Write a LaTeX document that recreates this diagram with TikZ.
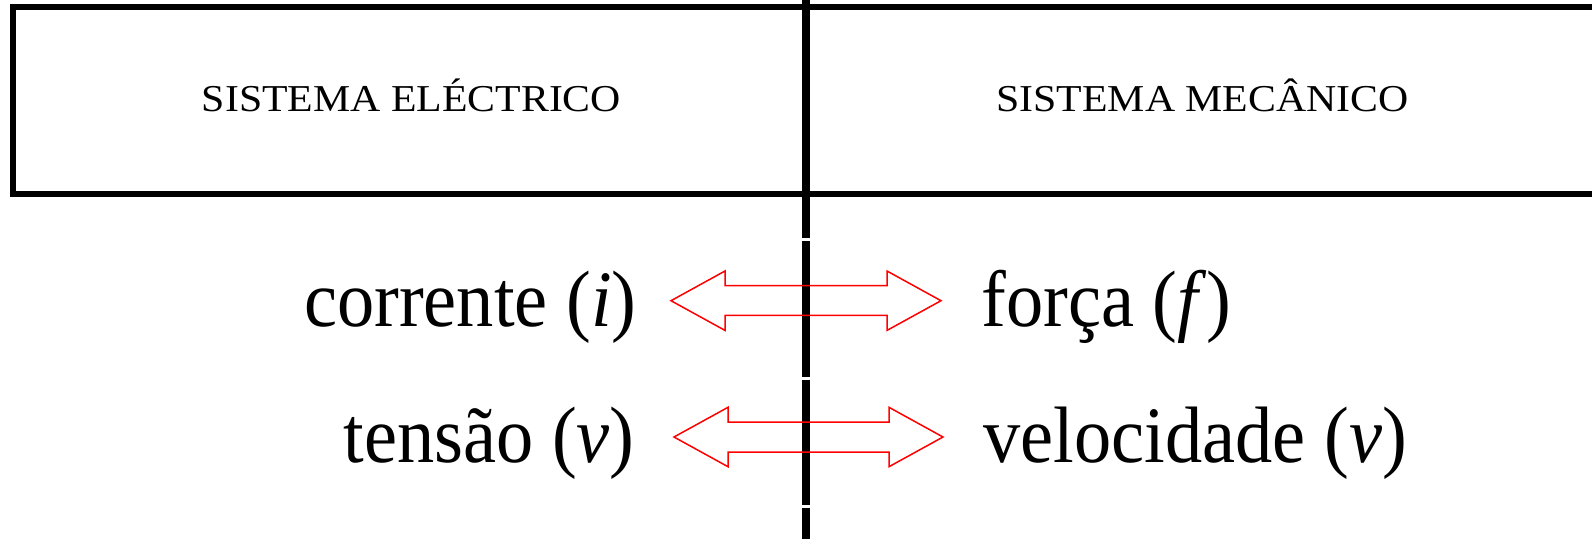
\documentclass[tikz,border=0pt]{standalone}
\usepackage{fontspec}
\setmainfont{Liberation Serif}
\newfontfamily\headfont[FakeStretch=1.1]{Liberation Serif}
\newfontfamily\bigfont[FakeStretch=0.93]{Liberation Serif}
\begin{document}
\begin{tikzpicture}[x=0.5pt,y=-0.5pt,
  frame/.style={line width=3pt},
  divider/.style={line width=4pt},
  dblarrow/.style={draw=red,line width=0.75pt,line join=miter},
  headtext/.style={inner sep=0pt,anchor=base,font=\headfont\fontsize{19}{23}\selectfont},
  lefttext/.style={inner sep=0pt,anchor=base east,font=\bigfont\fontsize{40}{48}\selectfont},
  righttext/.style={inner sep=0pt,anchor=base west,font=\bigfont\fontsize{40}{48}\selectfont}]
\useasboundingbox (0,0) rectangle (1592,538);
\fill[white] (0,0) rectangle (1592,538);
% header box
\draw[frame] (1600,7) -- (13,7) -- (13,194) -- (1600,194);
% vertical divider (broken)
\draw[divider] (806,0) -- (806,238);
\draw[divider] (806,241) -- (806,377);
\draw[divider] (806,379.5) -- (806,505);
\draw[divider] (806,507.5) -- (806,540);
% headings
\node[headtext] (he) at (411.5,111) {SISTEMA ELÉCTRICO};
\node[headtext] (hm) at (1202.5,111) {SISTEMA MECÂNICO};
% texts
\node[lefttext] (cor) at (637,326) {corrente (\textit{i})};
\node[righttext] (for) at (981,326) {força (\textit{f})};
\node[lefttext] (ten) at (635,462) {tensão (\textit{v})};
\node[righttext] (vel) at (983,462) {velocidade (\textit{v})};
% double arrows
\draw[dblarrow] (671,300.7) -- (725,271) -- (725,285.7) -- (887,285.7) -- (887,271) -- (941,300.7) -- (887,330.4) -- (887,315.3) -- (725,315.3) -- (725,330.4) -- cycle;
\draw[dblarrow] (674,437) -- (728,407.3) -- (728,422) -- (889,422) -- (889,407.3) -- (943,437) -- (889,466.7) -- (889,452) -- (728,452) -- (728,466.7) -- cycle;
\end{tikzpicture}
\end{document}
